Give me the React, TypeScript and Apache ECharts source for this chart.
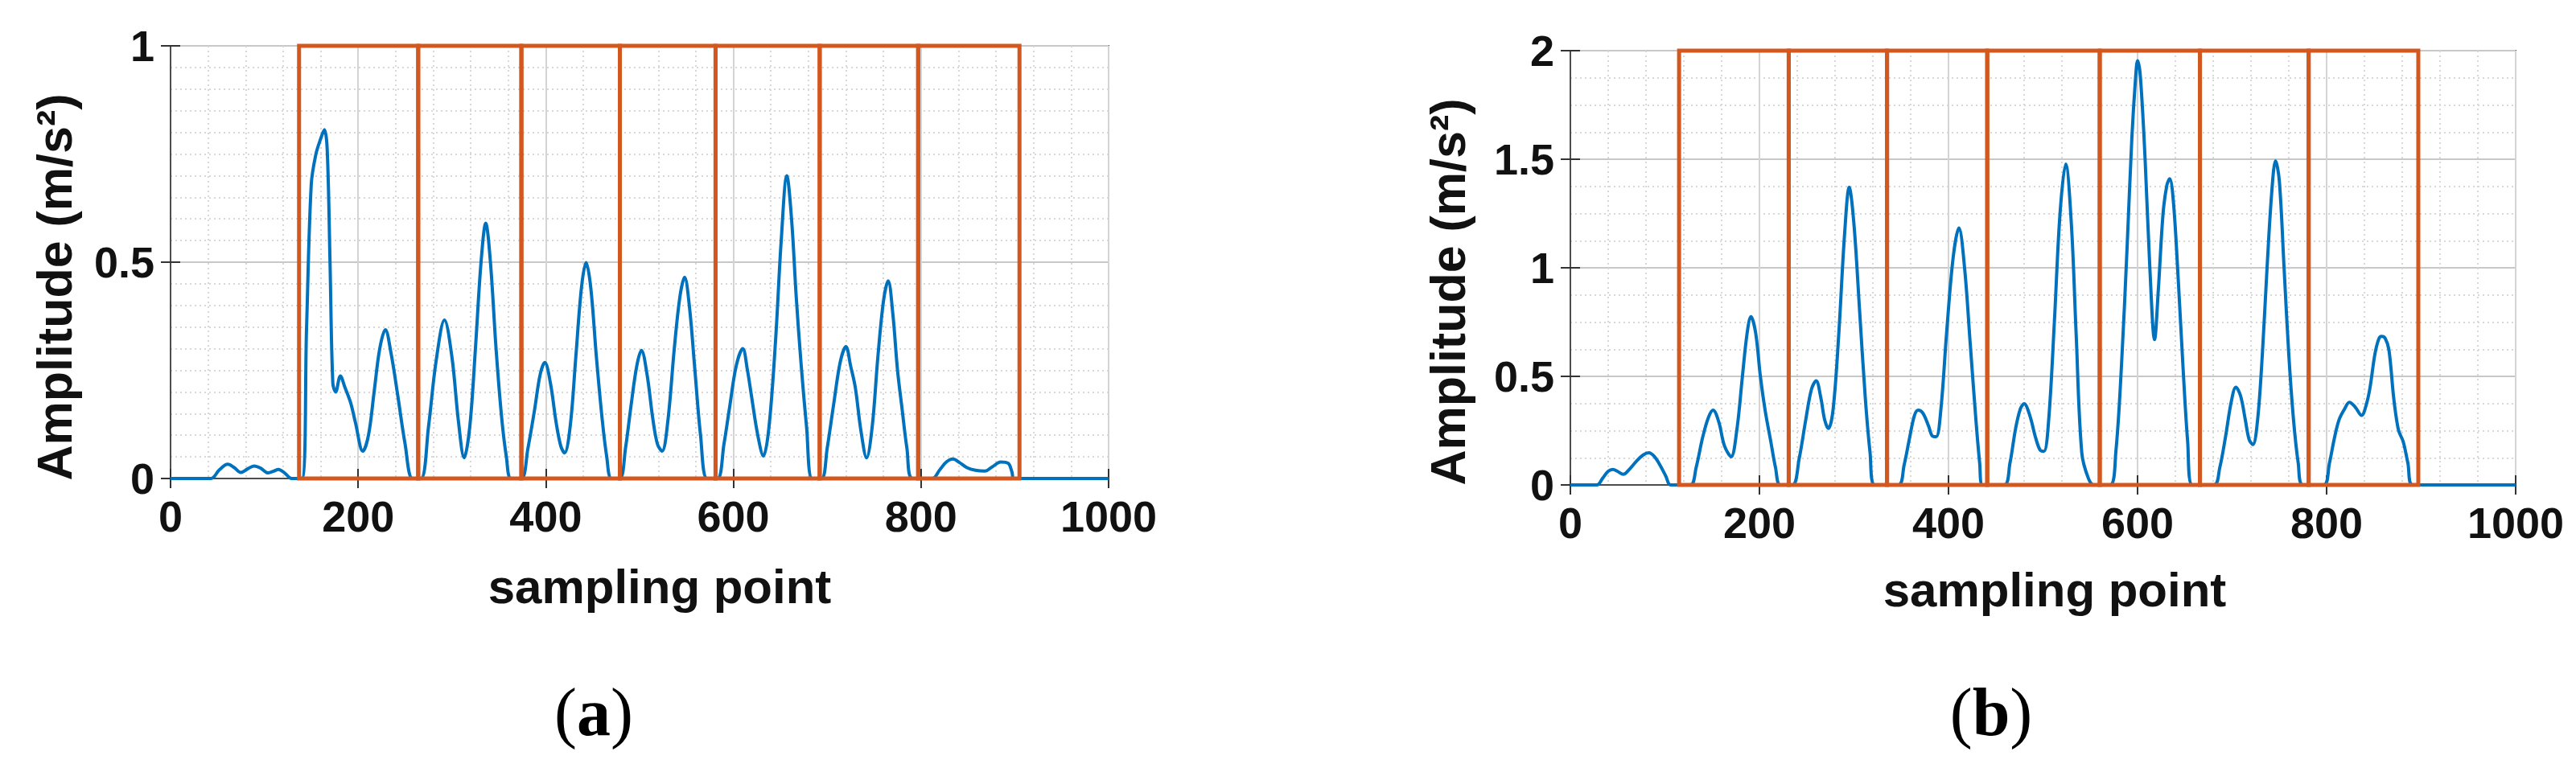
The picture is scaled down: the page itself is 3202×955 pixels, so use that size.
import React, { useEffect, useRef } from "react";
import * as echarts from "echarts";

// ---------- data ----------
const xTickValues = [0, 200, 400, 600, 800, 1000];
const leftYTicks = [0, 0.5, 1];
const rightYTicks = [0, 0.5, 1, 1.5, 2];

const leftBounds = [137, 264, 374, 479, 581, 692, 797, 905];
const rightBounds = [115, 231, 335, 441, 560, 666, 781, 897];

const leftSignal: [number, number][] = [
  [0, 0], [43, 0], [52, 0.02], [61, 0.033], [68, 0.025], [75, 0.014], [82, 0.022], [89, 0.029],
  [96, 0.024], [104, 0.013], [110, 0.017], [115, 0.021], [122, 0.012], [129, 0], [140, 0],
  [145, 0.35], [150, 0.68], [155, 0.75], [160, 0.785], [164, 0.806], [167, 0.76], [170, 0.5],
  [173, 0.22], [176, 0.2], [181, 0.237], [186, 0.21], [192, 0.175], [197, 0.13], [205, 0.063],
  [211, 0.1], [217, 0.2], [223, 0.3], [229, 0.344], [235, 0.29], [242, 0.195], [250, 0.08], [258, 0],
  [267, 0], [275, 0.12], [283, 0.27], [292, 0.366], [300, 0.28], [307, 0.13], [313, 0.048],
  [319, 0.12], [325, 0.3], [331, 0.5], [336, 0.59], [341, 0.5], [347, 0.3], [353, 0.14], [358, 0.05], [363, 0],
  [374, 0], [381, 0.07], [388, 0.158], [394, 0.24], [399, 0.268], [405, 0.22], [411, 0.13], [416, 0.075],
  [420, 0.059], [426, 0.12], [432, 0.28], [438, 0.44], [443, 0.499], [448, 0.44], [454, 0.28], [460, 0.14],
  [465, 0.05], [470, 0],
  [479, 0], [485, 0.07], [491, 0.17], [497, 0.26], [502, 0.296], [508, 0.24], [514, 0.14], [519, 0.08],
  [524, 0.063], [530, 0.13], [537, 0.3], [543, 0.42], [548, 0.465], [553, 0.4], [559, 0.25], [565, 0.1], [572, 0],
  [583, 0], [590, 0.08], [596, 0.165], [603, 0.26], [610, 0.3], [615, 0.25], [619, 0.195], [626, 0.1],
  [632, 0.052], [638, 0.12], [645, 0.32], [651, 0.55], [657, 0.7], [662, 0.6], [667, 0.42], [672, 0.27],
  [678, 0.12], [684, 0],
  [694, 0], [700, 0.07], [707, 0.173], [714, 0.27], [720, 0.305], [725, 0.26], [730, 0.21], [736, 0.11],
  [742, 0.048], [748, 0.12], [754, 0.28], [760, 0.41], [765, 0.457], [770, 0.38], [775, 0.25], [780, 0.158],
  [785, 0.07], [791, 0],
  [812, 0], [820, 0.02], [827, 0.038], [834, 0.045], [841, 0.037], [849, 0.025], [858, 0.019], [868, 0.017],
  [876, 0.027], [885, 0.038], [893, 0.035], [897, 0.015], [899, 0], [1000, 0],
];

const rightSignal: [number, number][] = [
  [0, 0], [28, 0], [34, 0.03], [40, 0.063], [45, 0.071], [50, 0.062], [56, 0.049], [62, 0.07],
  [70, 0.11], [77, 0.138], [83, 0.148], [89, 0.13], [95, 0.09], [101, 0.04], [106, 0], [127, 0],
  [133, 0.08], [140, 0.22], [146, 0.31], [151, 0.344], [157, 0.29], [163, 0.18], [170, 0.13],
  [176, 0.25], [182, 0.5], [187, 0.7], [191, 0.775], [196, 0.7], [201, 0.5], [206, 0.344], [212, 0.2],
  [217, 0.08], [222, 0],
  [235, 0], [242, 0.12], [249, 0.3], [255, 0.44], [260, 0.48], [265, 0.4], [269, 0.3], [273, 0.26],
  [278, 0.35], [284, 0.7], [290, 1.15], [295, 1.371], [300, 1.2], [306, 0.8], [312, 0.4], [317, 0.15], [322, 0],
  [347, 0], [353, 0.09], [359, 0.22], [364, 0.32], [368, 0.344], [373, 0.33], [379, 0.27], [383, 0.225],
  [387, 0.222], [392, 0.35], [398, 0.7], [405, 1.05], [411, 1.183], [417, 1.0], [423, 0.65], [429, 0.3],
  [433, 0.1], [436, 0],
  [459, 0], [465, 0.1], [471, 0.26], [476, 0.35], [480, 0.374], [486, 0.32], [492, 0.22], [497, 0.16],
  [501, 0.155], [506, 0.3], [512, 0.75], [518, 1.25], [524, 1.478], [530, 1.2], [535, 0.7], [541, 0.148],
  [548, 0.03], [554, 0],
  [571, 0], [577, 0.15], [583, 0.55], [589, 1.1], [594, 1.6], [598, 1.88], [600, 1.954], [603, 1.88],
  [608, 1.5], [613, 1.0], [618, 0.669], [622, 0.9], [627, 1.25], [631, 1.38], [634, 1.41], [638, 1.3],
  [643, 0.95], [648, 0.55], [653, 0.2], [658, 0],
  [681, 0], [687, 0.08], [693, 0.22], [699, 0.38], [704, 0.45], [709, 0.41], [714, 0.3], [718, 0.21],
  [722, 0.185], [727, 0.3], [732, 0.6], [737, 1.0], [742, 1.35], [746, 1.493], [750, 1.4], [755, 1.0],
  [760, 0.6], [765, 0.3], [770, 0.1], [775, 0],
  [797, 0], [803, 0.1], [808, 0.21], [813, 0.298], [819, 0.35], [824, 0.381], [830, 0.36], [837, 0.32],
  [842, 0.37], [846, 0.45], [851, 0.6], [855, 0.67], [858, 0.684], [862, 0.675], [866, 0.62], [871, 0.4],
  [876, 0.253], [881, 0.2], [886, 0.1], [891, 0], [1000, 0],
];

const yTitle = "Amplitude (m/s²)";
const xTitle = "sampling point";
const panelLetters = ["a", "b"];

// ---------- styling ----------
const SANS = '"Liberation Sans", Arial, Helvetica, sans-serif';
const SERIF = '"Liberation Serif", "Times New Roman", serif';
const BLUE = "#0072BD";
const ORANGE = "#D2581F";
const TXT = "#111111";

function pairs(b: number[]): [number, number][] {
  const out: [number, number][] = [];
  for (let i = 0; i < b.length - 1; i++) out.push([b[i], b[i + 1]]);
  return out;
}

const plainNum = (v: number) => String(v);

function makeX(gridIndex: number, pos: "bottom" | "top") {
  return {
    type: "value",
    gridIndex,
    position: pos,
    min: xTickValues[0],
    max: xTickValues[xTickValues.length - 1],
    interval: xTickValues[1] - xTickValues[0],
    axisLine: { show: true, lineStyle: { color: "#4d4d4d", width: 2 } },
    axisTick: { show: true, inside: true, length: 12, lineStyle: { color: "#333", width: 2 } },
    axisLabel: pos === "bottom"
      ? { show: true, fontFamily: SANS, fontWeight: "bold", fontSize: 54, color: TXT, margin: 20, formatter: plainNum }
      : { show: false },
    splitLine: pos === "bottom"
      ? { show: true, lineStyle: { color: "#d4d4d4", width: 2 } }
      : { show: false },
    minorTick: { show: false, splitNumber: 5 },
    minorSplitLine: pos === "bottom"
      ? { show: true, lineStyle: { color: "#d8d8d8", width: 2, type: [2, 4] } }
      : { show: false },
  };
}

function makeY(gridIndex: number, ticks: number[], minorSplit: number, pos: "left" | "right") {
  return {
    type: "value",
    gridIndex,
    position: pos,
    min: ticks[0],
    max: ticks[ticks.length - 1],
    interval: ticks[1] - ticks[0],
    axisLine: { show: true, lineStyle: { color: "#4d4d4d", width: 2 } },
    axisTick: { show: true, inside: true, length: 12, lineStyle: { color: "#333", width: 2 } },
    axisLabel: pos === "left"
      ? { show: true, fontFamily: SANS, fontWeight: "bold", fontSize: 54, color: TXT, margin: 20, formatter: plainNum }
      : { show: false },
    splitLine: pos === "left"
      ? { show: true, lineStyle: { color: "#c8c8c8", width: 2 } }
      : { show: false },
    minorTick: { show: false, splitNumber: minorSplit },
    minorSplitLine: pos === "left"
      ? { show: true, lineStyle: { color: "#d8d8d8", width: 2, type: [2, 4] } }
      : { show: false },
  };
}

function boxSeries(xAxisIndex: number, yAxisIndex: number, bounds: number[], yMax: number) {
  return {
    type: "custom",
    xAxisIndex,
    yAxisIndex,
    z: 5,
    silent: true,
    data: pairs(bounds),
    encode: { x: [0, 1] },
    renderItem: (_params: any, api: any) => {
      const x0 = api.value(0);
      const x1 = api.value(1);
      const p0 = api.coord([x0, yMax]);
      const p1 = api.coord([x1, 0]);
      return {
        type: "rect",
        shape: { x: p0[0], y: p0[1], width: p1[0] - p0[0], height: p1[1] - p0[1] },
        style: { fill: "none", stroke: ORANGE, lineWidth: 5 },
      };
    },
  };
}

function lineSeries(xAxisIndex: number, yAxisIndex: number, data: [number, number][]) {
  return {
    type: "line",
    xAxisIndex,
    yAxisIndex,
    z: 3,
    data,
    smooth: 0.35,
    showSymbol: false,
    symbol: "none",
    lineStyle: { color: BLUE, width: 4 },
    clip: true,
  };
}

function textEl(x: number, y: number, text: string, size: number, rotation = 0) {
  return {
    type: "text",
    x,
    y,
    rotation,
    style: {
      text,
      fontFamily: SANS,
      fontWeight: "bold",
      fontSize: size,
      fill: TXT,
      align: "center",
      verticalAlign: "middle",
      textAlign: "center",
      textVerticalAlign: "middle",
    },
  };
}

function letterEl(x: number, y: number, letter: string) {
  return {
    type: "text",
    x,
    y,
    style: {
      text: `{p|(}{b|${letter}}{p|)}`,
      align: "center",
      verticalAlign: "middle",
      textAlign: "center",
      textVerticalAlign: "middle",
      fill: "#000",
      rich: {
        p: { fontFamily: SERIF, fontSize: 84, fontWeight: "normal", fill: "#000" },
        b: { fontFamily: SERIF, fontSize: 84, fontWeight: "bold", fill: "#000" },
      },
    },
  };
}

export default function App() {
  const ref = useRef<HTMLDivElement>(null);
  useEffect(() => {
    if (!ref.current) return;
    const chart = echarts.init(ref.current, undefined, { renderer: "svg" });
    chart.setOption({
      animation: false,
      backgroundColor: "#ffffff",
      grid: [
        { left: 212, top: 57, width: 1166, height: 538, show: true, borderColor: "#4d4d4d", borderWidth: 2, backgroundColor: "#fff" },
        { left: 1952, top: 63, width: 1175, height: 540, show: true, borderColor: "#4d4d4d", borderWidth: 2, backgroundColor: "#fff" },
      ],
      xAxis: [makeX(0, "bottom"), makeX(0, "top"), makeX(1, "bottom"), makeX(1, "top")],
      yAxis: [
        makeY(0, leftYTicks, 10, "left"),
        makeY(0, leftYTicks, 10, "right"),
        makeY(1, rightYTicks, 4, "left"),
        makeY(1, rightYTicks, 4, "right"),
      ],
      series: [
        lineSeries(0, 0, leftSignal),
        boxSeries(0, 0, leftBounds, leftYTicks[leftYTicks.length - 1]),
        lineSeries(2, 2, rightSignal),
        boxSeries(2, 2, rightBounds, rightYTicks[rightYTicks.length - 1]),
      ],
      graphic: [
        textEl(68, 357, yTitle, 61, Math.PI / 2),
        textEl(1800, 363, yTitle, 61, Math.PI / 2),
        textEl(820, 729, xTitle, 60),
        textEl(2554, 733, xTitle, 60),
        letterEl(738, 885, panelLetters[0]),
        letterEl(2475, 885, panelLetters[1]),
      ],
    });
    return () => chart.dispose();
  }, []);
  return (
    <div
      ref={ref}
      style={{ position: "absolute", left: 0, top: 0, width: "3202px", height: "955px", background: "#fff" }}
    />
  );
}
